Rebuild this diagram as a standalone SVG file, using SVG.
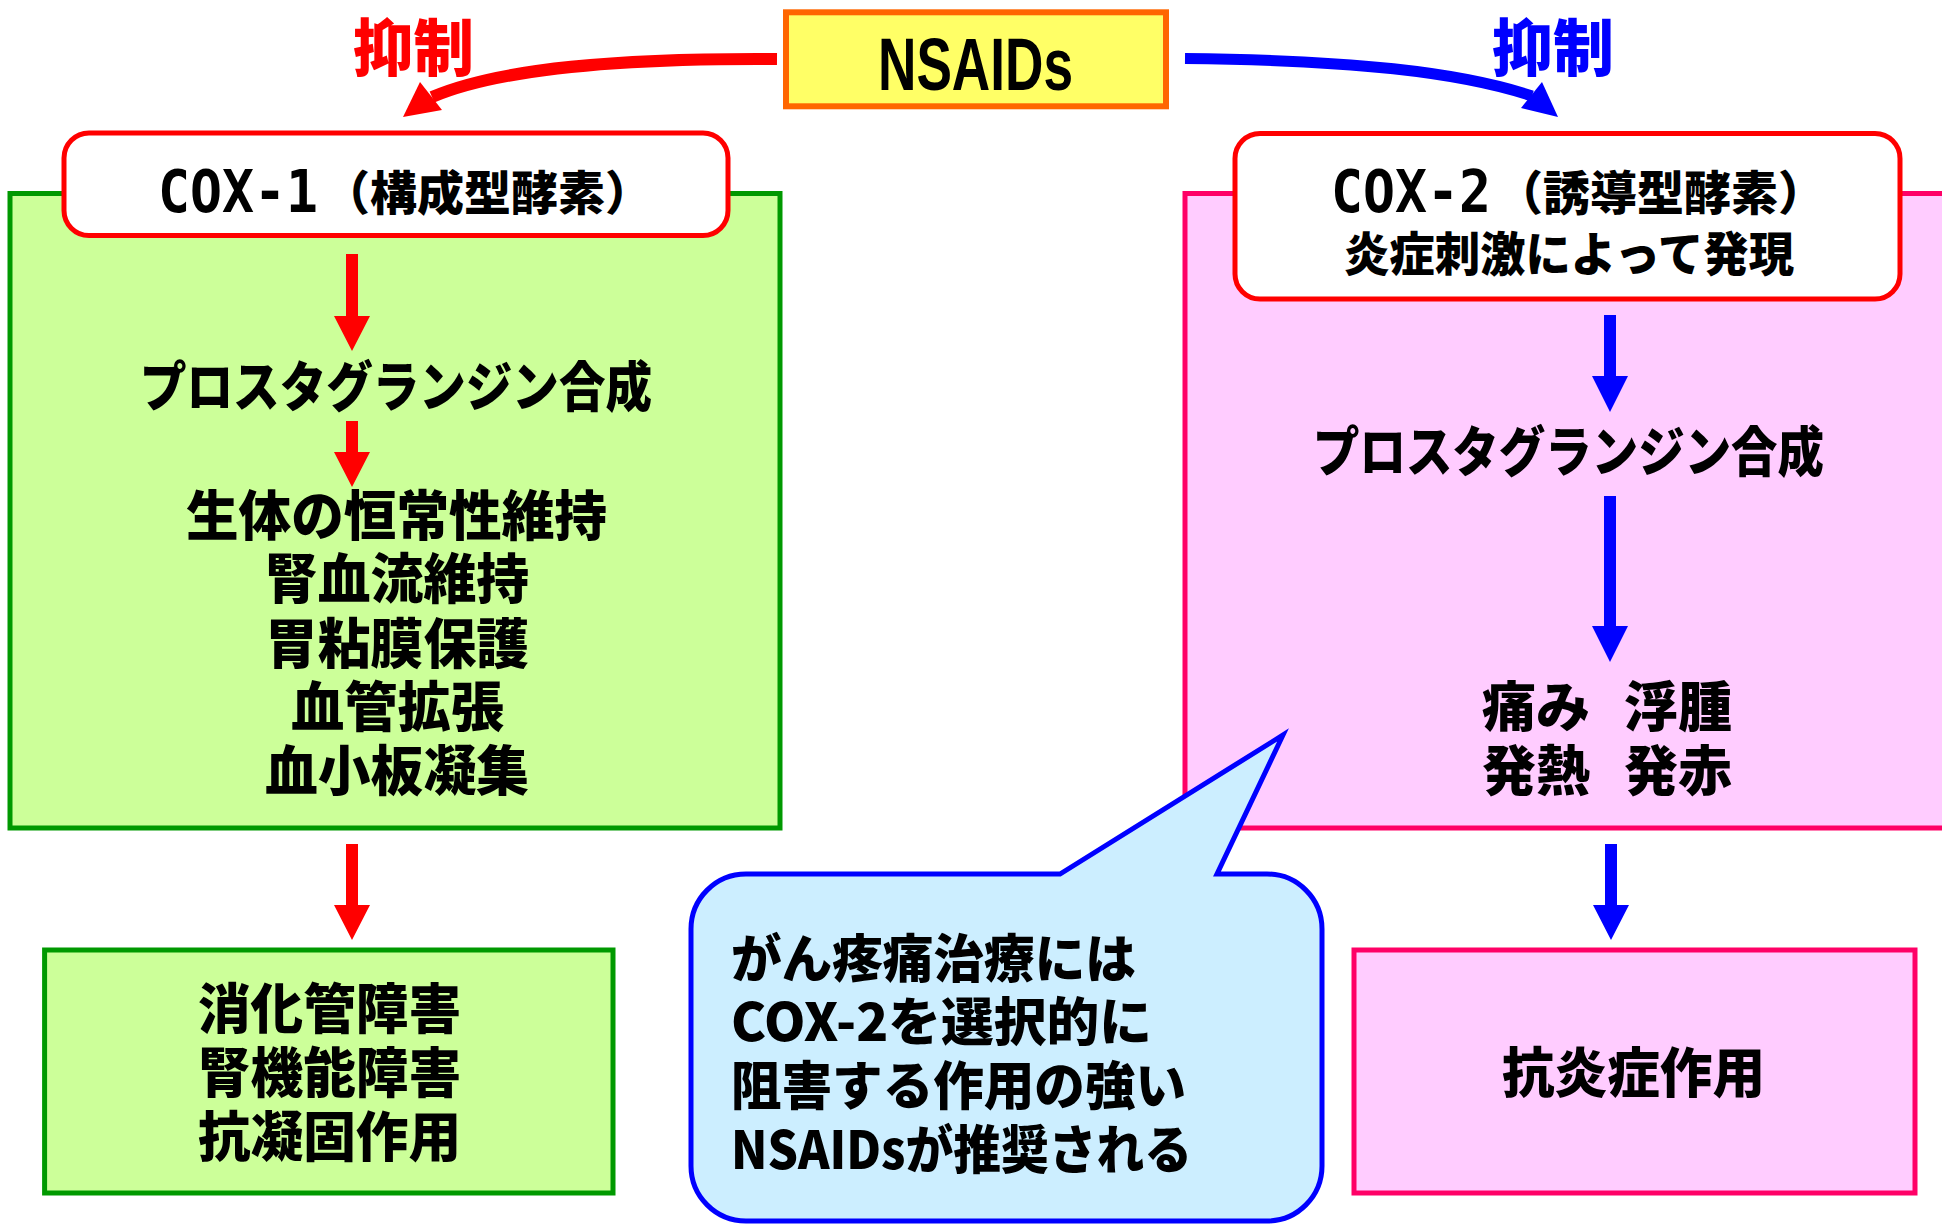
<svg xmlns="http://www.w3.org/2000/svg" width="1942" height="1224" viewBox="0 0 1942 1224">
<style>
.jp{font-family:"Noto Sans CJK JP","Noto Sans CJK SC",sans-serif;font-weight:900;fill:#000}
.lat{font-family:"Liberation Sans","Noto Sans CJK JP",sans-serif;font-weight:700;fill:#000}
.mono{font-family:"DejaVu Sans Mono","Liberation Mono",monospace;font-weight:700;fill:#000}
.green{fill:#CCFF99;stroke:#009900;stroke-width:5}
.pink{fill:#FFCCFF;stroke:#FF0066;stroke-width:5}
.white{fill:#FFFFFF;stroke:#FF0000;stroke-width:5}
.red{fill:#FF0000}
.blue{fill:#0000FF}
</style>
<rect width="1942" height="1224" fill="#FFFFFF"/>

<g id="cox1-panel">
<rect class="green" x="10" y="193.5" width="770" height="634.5"/>
</g>
<g id="cox2-panel">
<rect class="pink" x="1185" y="193.5" width="780" height="634.5"/>
</g>

<g id="nsaids">
<rect x="786" y="12.3" width="380" height="94" fill="#FFFF66" stroke="#FF6600" stroke-width="6"/>
<text class="lat" x="878" y="90" font-size="74" textLength="195" lengthAdjust="spacingAndGlyphs">NSAIDs</text>
</g>

<g id="label-inhibit-left">
<text class="jp" x="353" y="71" font-size="62" style="fill:#FF0000" textLength="121" lengthAdjust="spacingAndGlyphs">抑制</text>
</g>
<g id="label-inhibit-right">
<text class="jp" x="1492" y="71" font-size="62" style="fill:#0000FF" textLength="122" lengthAdjust="spacingAndGlyphs">抑制</text>
</g>

<g id="cox1">
<rect class="white" x="64" y="133" width="664" height="102.5" rx="25" ry="25"/>
<text class="mono" x="158" y="212" font-size="58" textLength="160" lengthAdjust="spacingAndGlyphs">COX-1</text>
<text class="jp" x="323" y="210" font-size="47" textLength="329" lengthAdjust="spacingAndGlyphs">（構成型酵素）</text>
</g>

<g id="cox2">
<rect class="white" x="1235" y="133.5" width="665" height="165.5" rx="25" ry="25"/>
<text class="mono" x="1331" y="212" font-size="58" textLength="160" lengthAdjust="spacingAndGlyphs">COX-2</text>
<text class="jp" font-size="47"><tspan x="1496" y="210" textLength="329" lengthAdjust="spacingAndGlyphs">（誘導型酵素）</tspan><tspan x="1344" y="271" textLength="450" lengthAdjust="spacingAndGlyphs">炎症刺激によって発現</tspan></text>
</g>

<g id="pg-left">
<text class="jp" x="140" y="407" font-size="54" textLength="512" lengthAdjust="spacingAndGlyphs">プロスタグランジン合成</text>
</g>
<g id="effects-left">
<text class="jp" font-size="54"><tspan x="186" y="536" textLength="421" lengthAdjust="spacingAndGlyphs">生体の恒常性維持</tspan><tspan x="265" y="599" textLength="264" lengthAdjust="spacingAndGlyphs">腎血流維持</tspan><tspan x="265" y="664" textLength="264" lengthAdjust="spacingAndGlyphs">胃粘膜保護</tspan><tspan x="291" y="727" textLength="213" lengthAdjust="spacingAndGlyphs">血管拡張</tspan><tspan x="265" y="791" textLength="264" lengthAdjust="spacingAndGlyphs">血小板凝集</tspan></text>
</g>

<g id="pg-right">
<text class="jp" x="1313" y="472" font-size="54" textLength="511" lengthAdjust="spacingAndGlyphs">プロスタグランジン合成</text>
</g>
<g id="effects-right">
<text class="jp" font-size="54"><tspan x="1482" y="727">痛み　</tspan><tspan x="1624" y="727">浮腫</tspan><tspan x="1482" y="791">発熱　</tspan><tspan x="1624" y="791">発赤</tspan></text>
</g>

<g id="adverse">
<rect class="green" x="44.6" y="950" width="568.4" height="243"/>
<text class="jp" font-size="54"><tspan x="198" y="1029" textLength="263" lengthAdjust="spacingAndGlyphs">消化管障害</tspan><tspan x="198" y="1093" textLength="263" lengthAdjust="spacingAndGlyphs">腎機能障害</tspan><tspan x="198" y="1157" textLength="263" lengthAdjust="spacingAndGlyphs">抗凝固作用</tspan></text>
</g>

<g id="anti-inflammatory">
<rect class="pink" x="1354" y="950" width="561" height="243"/>
<text class="jp" x="1502" y="1093" font-size="54" textLength="263" lengthAdjust="spacingAndGlyphs">抗炎症作用</text>
</g>

<g id="callout">
<path d="M746,874 L1060,874 L1283,735 L1217,874 L1267,874 A55,55 0 0 1 1322,929 L1322,1166 A55,55 0 0 1 1267,1221 L746,1221 A55,55 0 0 1 691,1166 L691,929 A55,55 0 0 1 746,874 Z" fill="#CCEEFF" stroke="#0000FF" stroke-width="5" stroke-linejoin="miter"/>
<text class="jp" font-size="52"><tspan x="731" y="978" textLength="405" lengthAdjust="spacingAndGlyphs">がん疼痛治療には</tspan><tspan x="731" y="1041" textLength="421" lengthAdjust="spacingAndGlyphs">COX-2を選択的に</tspan><tspan x="731" y="1105" textLength="455" lengthAdjust="spacingAndGlyphs">阻害する作用の強い</tspan><tspan x="731" y="1169" textLength="461" lengthAdjust="spacingAndGlyphs">NSAIDsが推奨される</tspan></text>
</g>

<g id="connectors">
<path d="M777,59 C620,58 500,68 432,97" fill="none" stroke="#FF0000" stroke-width="12"/>
<polygon class="red" points="420,82 442,110 403,117"/>
<path d="M1185,58.5 C1350,60 1460,72 1532,96" fill="none" stroke="#0000FF" stroke-width="11"/>
<polygon class="blue" points="1542,82 1558,117 1521,108"/>

<polygon class="red" points="346,254 358,254 358,316 370,316 352,351 334,316 346,316"/>
<polygon class="red" points="346,421 358,421 358,452 370,452 352,487 334,452 346,452"/>
<polygon class="red" points="346,844 358,844 358,905 370,905 352,940 334,905 346,905"/>

<polygon class="blue" points="1604,315 1616,315 1616,376 1628,376 1610,412 1592,376 1604,376"/>
<polygon class="blue" points="1604,496 1616,496 1616,626 1628,626 1610,662 1592,626 1604,626"/>
<polygon class="blue" points="1605,844 1617,844 1617,905 1629,905 1611,940 1593,905 1605,905"/>
</g>
</svg>
